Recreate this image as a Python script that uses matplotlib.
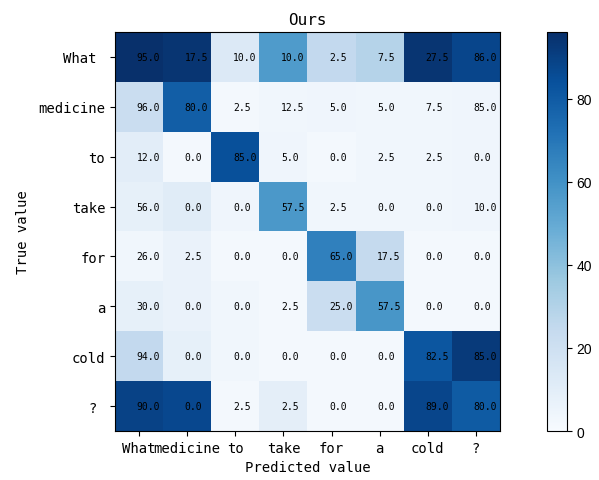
import matplotlib
matplotlib.use('Agg')
import matplotlib.pyplot as plt
import numpy as np

words = ['What', 'medicine', 'to', 'take', 'for', 'a', 'cold', '?']
row_labels = ['What ', 'medicine', 'to', 'take', 'for', 'a', 'cold', '? ']

# shade of each cell (as it appears in the picture)
shade = np.array([
    [96, 94, 13, 56, 25, 29, 94, 88],
    [22, 79, 2, 3, 4, 3, 3, 4],
    [10, 2, 84, 4, 2, 3, 3, 4],
    [8, 11, 4, 57, 3, 3, 3, 4],
    [3, 6, 2, 2, 66, 24, 2, 2],
    [8, 6, 3, 2, 22, 58, 2, 2],
    [25, 8, 3, 2, 2, 2, 82, 92],
    [89, 87, 2, 9, 2, 2, 88, 80],
])

# numbers printed in the cells
labels = np.array([
    [95.0, 17.5, 10.0, 10.0, 2.5, 7.5, 27.5, 86.0],
    [96.0, 80.0, 2.5, 12.5, 5.0, 5.0, 7.5, 85.0],
    [12.0, 0.0, 85.0, 5.0, 0.0, 2.5, 2.5, 0.0],
    [56.0, 0.0, 0.0, 57.5, 2.5, 0.0, 0.0, 10.0],
    [26.0, 2.5, 0.0, 0.0, 65.0, 17.5, 0.0, 0.0],
    [30.0, 0.0, 0.0, 2.5, 25.0, 57.5, 0.0, 0.0],
    [94.0, 0.0, 0.0, 0.0, 0.0, 0.0, 82.5, 85.0],
    [90.0, 0.0, 2.5, 2.5, 0.0, 0.0, 89.0, 80.0],
])

plt.rcParams['font.family'] = ['DejaVu Sans Mono']

fig = plt.figure(figsize=(5.99, 4.81), dpi=100)
ax = fig.add_axes([115 / 599, 1 - 432 / 481, 385 / 599, 399 / 481])
cax = fig.add_axes([547 / 599, 1 - 432 / 481, 20 / 599, 399 / 481])

im = ax.imshow(shade, cmap='Blues', vmin=0, vmax=shade.max(), aspect='auto',
               interpolation='nearest')

for i in range(labels.shape[0]):
    for j in range(labels.shape[1]):
        ax.text(j - 0.05, i, format(labels[i, j], '.1f'), ha='left', va='center',
                fontsize=7, color='black')

ax.set_xticks(np.arange(len(words)))
ax.set_xticklabels(words, fontsize=10)
ax.set_yticks(np.arange(len(words)))
ax.set_yticklabels(row_labels, fontsize=10)
ax.set_title('Ours', fontsize=11.5)
ax.set_xlabel('Predicted value', fontsize=10, labelpad=4)
ax.set_ylabel('True value', fontsize=10, labelpad=6)

cb = fig.colorbar(im, cax=cax)
cb.set_ticks([0, 20, 40, 60, 80])
for t in cb.ax.get_yticklabels():
    t.set_fontfamily('Liberation Sans')
    t.set_fontsize(10)

plt.savefig('out.png', dpi=100)
